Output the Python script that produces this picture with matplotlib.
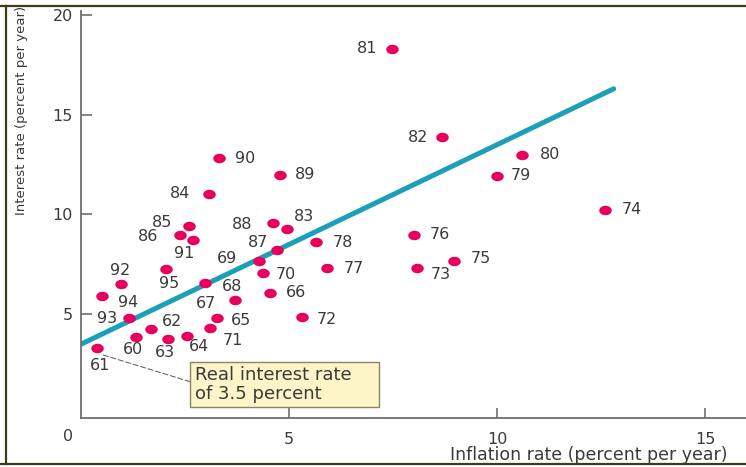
import matplotlib
matplotlib.use("Agg")
import matplotlib.pyplot as plt
from matplotlib.path import Path
from matplotlib.lines import Line2D
from matplotlib.patches import Rectangle
import numpy as np

# Inflation rate vs interest rate by year, 1960-1995
years = ["60", "61", "62", "63", "64", "65", "66", "67", "68", "69",
         "70", "71", "72", "73", "74", "75", "76", "77", "78", "79",
         "80", "81", "82", "83", "84", "85", "86", "87", "88", "89",
         "90", "91", "92", "93", "94", "95"]
inflation = [1.32, 0.39, 1.68, 2.08, 2.54, 3.28, 4.53, 3.69, 2.98, 4.28,
             4.38, 3.10, 5.31, 8.08, 12.60, 8.97, 7.99, 5.91, 5.65, 9.99,
             10.59, 7.48, 8.67, 4.94, 3.08, 2.60, 2.38, 4.70, 4.61, 4.78,
             3.32, 2.69, 0.95, 1.16, 0.51, 2.04]
interest = [3.88, 3.30, 4.25, 3.76, 3.93, 4.80, 6.09, 5.72, 6.59, 7.68,
            7.06, 4.30, 4.85, 7.31, 10.24, 7.69, 8.98, 7.31, 8.60, 11.94,
            13.00, 18.30, 13.88, 9.28, 11.04, 9.40, 8.98, 8.23, 9.57, 11.99,
            12.83, 8.71, 6.51, 4.80, 5.89, 7.26]
# label offsets from each point, in pixels (right, down)
label_dx = [-3, 3, 21, -3, 12, 24, 26, -29, 27, -32,
            23, 23, 25, 24, 27, 27, 26, 27, 27, 24,
            28, -25, -24, 17, -29, -27, -32, -19, -31, 25,
            26, -9, 0, -22, 26, 3]
label_dy = [13, 17, -8, 14, 11, 2, 0, 4, 4, -2,
            1, 12, 2, 6, 0, -2, 0, 0, 0, 0,
            0, 0, 0, -12, 0, -4, 2, -7, 1, 0,
            0, 13, -14, 0, 6, 14]

real_rate = 3.5
line_x = [0.0, 12.8]

x_ticks = [5, 10, 15]
y_ticks = [5, 10, 15, 20]

W, H, DPI = 746, 467, 100
fig = plt.figure(figsize=(W / DPI, H / DPI), dpi=DPI, facecolor="white")
plt.rcParams["font.family"] = ["DejaVu Sans"]

left_px, right_px = 81, 746
bottom_px, top_px = 418, 11
ax = fig.add_axes([left_px / W, 1 - bottom_px / H,
                   (right_px - left_px) / W, (bottom_px - top_px) / H])
ax.set_xlim(0, 15.98)
ax.set_ylim(-0.2, 20.2)

text_col = "#3a3a3a"
axis_col = "#707070"

for side in ("top", "right"):
    ax.spines[side].set_visible(False)
for side in ("left", "bottom"):
    ax.spines[side].set_color(axis_col)
    ax.spines[side].set_linewidth(1.3)

ax.set_xticks(x_ticks)
ax.set_yticks(y_ticks)
ax.tick_params(axis="both", direction="in", color=axis_col, width=1.2,
               labelcolor=text_col, labelsize=11.5)
ax.tick_params(axis="x", length=7, pad=10)
ax.tick_params(axis="y", length=8, pad=6)

# origin label shared by both axes
ax.annotate("0", xy=(0, -0.2), xytext=(-9.5, -13), textcoords="offset points",
            ha="center", va="center", fontsize=11.5, color=text_col,
            annotation_clip=False)

# real interest rate line: interest = inflation + 3.5
lx = np.array(line_x)
ax.plot(lx, lx + real_rate, color="#1ba0b8", lw=3.6, solid_capstyle="round",
        zorder=2)

# elliptical dots
t = np.linspace(0, 2 * np.pi, 40)
ellipse = Path(np.column_stack([0.66 * np.cos(t), 0.5 * np.sin(t)]), closed=True)
ax.plot(inflation, interest, linestyle="none", marker=ellipse, markersize=9,
        color="#e8005c", markeredgewidth=0, zorder=3)

px2pt = 72 / DPI
for yr, xv, yv, dx, dy in zip(years, inflation, interest, label_dx, label_dy):
    ax.annotate(yr, xy=(xv, yv), xytext=(dx * px2pt, -dy * px2pt),
                textcoords="offset points", ha="center", va="center",
                fontsize=11.5, color=text_col, zorder=4)

# callout for the intercept
box_x0, box_x1 = 2.62, 7.16
box_y0, box_y1 = 0.35, 2.61
ax.plot([0.53, box_x0], [2.96, 1.62], color="#555555", lw=0.7,
        linestyle=(0, (6, 2)), zorder=4)
ax.add_patch(Rectangle((box_x0, box_y0), box_x1 - box_x0, box_y1 - box_y0,
                       facecolor="#fdf5c8", edgecolor="#8c8468", lw=1.0,
                       zorder=5))
ax.text(box_x0 + 0.12, (box_y0 + box_y1) / 2, "Real interest rate\nof 3.5 percent",
        ha="left", va="center", fontsize=13, color=text_col,
        linespacing=1.05, zorder=6)

fig.text(22 / W, 1 - 110 / H, "Interest rate (percent per year)",
         rotation=90, ha="center", va="center", fontsize=9.5, color=text_col)
fig.text(450 / W, 1 - 455 / H, "Inflation rate (percent per year)",
         ha="left", va="center", fontsize=12.5, color=text_col)

# outer frame
frame_col = "#3d3c14"
for xs, ys in (([0, 1], [1 - 6 / H] * 2),
               ([0, 1], [1 - 464 / H] * 2),
               ([6 / W] * 2, [1 - 6 / H, 1 - 464 / H])):
    fig.add_artist(Line2D(xs, ys, color=frame_col, lw=1.6,
                          transform=fig.transFigure))

fig.savefig("out.png", dpi=DPI, facecolor="white")
